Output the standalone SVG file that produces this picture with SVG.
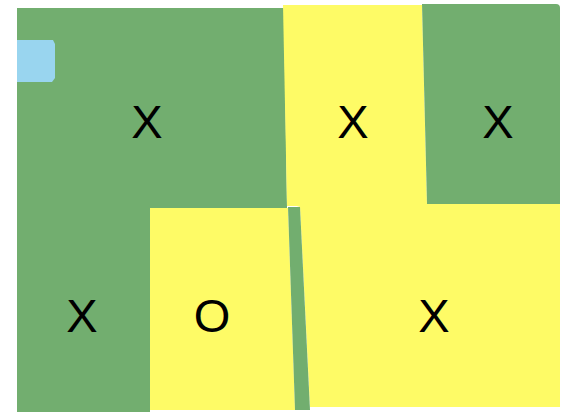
<svg xmlns="http://www.w3.org/2000/svg" width="570" height="413" viewBox="0 0 570 413">
<style>
.g{fill:#72ae6f}
.y{fill:#fefb66}
.b{fill:#99d5ef}
.t{font-family:"Liberation Sans",Arial,sans-serif;font-size:47px;fill:#000;text-anchor:middle}
</style>
<rect x="0" y="0" width="570" height="413" fill="#ffffff"/>
<g id="region-top-left">
<polygon class="g" points="17,8 284,8 287,208 150,208 150,412 17,412"/>
<text class="t" x="147" y="138">X</text>
</g>
<g id="region-bottom-left">
<text class="t" x="82" y="332">X</text>
</g>
<g id="marker-blue">
<polygon class="b" points="17,40 53,40 55,44 55,78 52,82 17,82"/>
</g>
<g id="region-top-middle">
<polygon class="y" points="283,5 422,5 427,206 287,206"/>
<text class="t" x="353" y="138">X</text>
</g>
<g id="region-bottom-right">
<polygon class="y" points="287,203 560,203 560,407 310,407 300,207"/>
<text class="t" x="434" y="332">X</text>
</g>
<g id="region-top-right">
<path class="g" d="M422,4 H556 Q560,4 560,8 V204 H427 Z"/>
<text class="t" x="498" y="138">X</text>
</g>
<g id="region-bottom-middle">
<polygon class="y" points="150,208 288,208 295,410 150,410"/>
<text class="t" x="212" y="332">O</text>
</g>
<g id="strip">
<polygon class="g" points="288,207 300,207 310,410 295,410"/>
</g>
<g id="connectors"></g>
</svg>
